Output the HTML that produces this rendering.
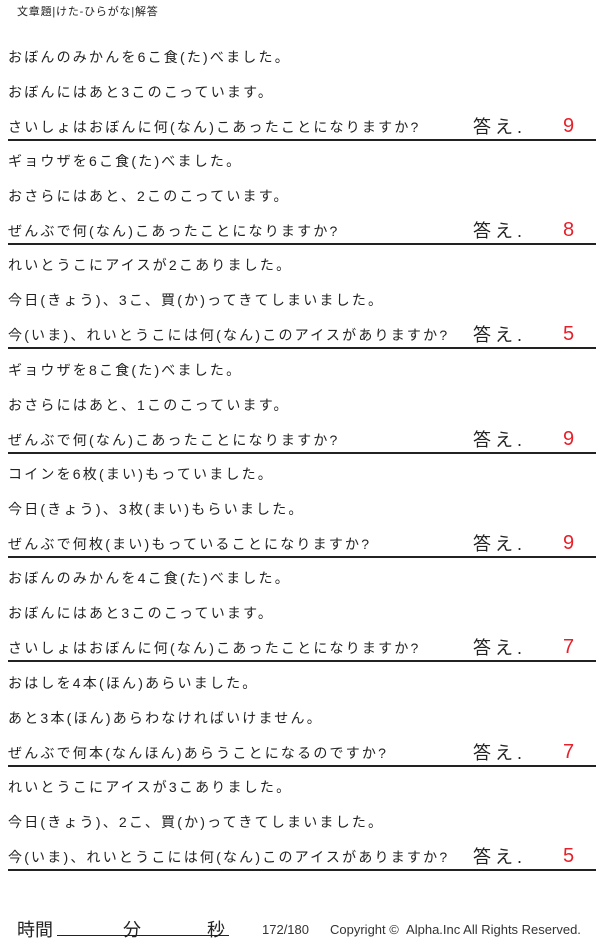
<!DOCTYPE html>
<html><head><meta charset="utf-8"><style>
body{margin:0;width:600px;height:943px;background:#fff;position:relative;overflow:hidden;font-family:"Liberation Sans","Noto Sans CJK JP",sans-serif;color:#222}
.t{position:absolute;left:8px;font-size:14px;letter-spacing:2.2px;white-space:nowrap;line-height:16px}
.l{position:absolute;left:8px;width:588px;height:2px;background:#222}
.a{position:absolute;left:473px;font-size:18px;letter-spacing:4px;line-height:20px}
.n{position:absolute;left:563px;font-size:20px;color:#e8202a;line-height:20px;font-weight:300}
.h{position:absolute;left:17px;top:3px;font-size:11px;letter-spacing:0.8px}
</style></head><body>
<div class="h">文章題|けた-ひらがな|解答</div>
<div id="c"></div>
<script>
var P=[["おぼんのみかんを6こ食(た)べました。","おぼんにはあと3このこっています。","さいしょはおぼんに何(なん)こあったことになりますか?","9"],
["ギョウザを6こ食(た)べました。","おさらにはあと、2このこっています。","ぜんぶで何(なん)こあったことになりますか?","8"],
["れいとうこにアイスが2こありました。","今日(きょう)、3こ、買(か)ってきてしまいました。","今(いま)、れいとうこには何(なん)このアイスがありますか?","5"],
["ギョウザを8こ食(た)べました。","おさらにはあと、1このこっています。","ぜんぶで何(なん)こあったことになりますか?","9"],
["コインを6枚(まい)もっていました。","今日(きょう)、3枚(まい)もらいました。","ぜんぶで何枚(まい)もっていることになりますか?","9"],
["おぼんのみかんを4こ食(た)べました。","おぼんにはあと3このこっています。","さいしょはおぼんに何(なん)こあったことになりますか?","7"],
["おはしを4本(ほん)あらいました。","あと3本(ほん)あらわなければいけません。","ぜんぶで何本(なんほん)あらうことになるのですか?","7"],
["れいとうこにアイスが3こありました。","今日(きょう)、2こ、買(か)ってきてしまいました。","今(いま)、れいとうこには何(なん)このアイスがありますか?","5"]];
var L=[140,244,348,453,557,661,766,870],h="";
P.forEach(function(p,i){var y=L[i];
h+='<div class="t" style="top:'+(y-91)+'px">'+p[0]+'</div>';
h+='<div class="t" style="top:'+(y-56)+'px">'+p[1]+'</div>';
h+='<div class="t" style="top:'+(y-21)+'px">'+p[2]+'</div>';
h+='<div class="a" style="top:'+(y-23)+'px">答え.</div>';
h+='<div class="n" style="top:'+(y-24)+'px">'+p[3]+'</div>';
h+='<div class="l" style="top:'+(y-1)+'px"></div>';});
document.getElementById("c").innerHTML=h;
</script>
<div style="position:absolute;left:17px;top:916px;font-size:18px">時間</div>
<div style="position:absolute;left:57px;top:935px;width:172px;height:1px;background:#222"></div>
<div style="position:absolute;left:123px;top:916px;font-size:18px">分</div>
<div style="position:absolute;left:207px;top:916px;font-size:18px">秒</div>
<div style="position:absolute;left:262px;top:922px;font-size:13px;color:#333;white-space:nowrap">172/180</div>
<div style="position:absolute;left:330px;top:922px;font-size:13px;color:#333;white-space:nowrap">Copyright © &nbsp;Alpha.Inc All Rights Reserved.</div>
</body></html>
